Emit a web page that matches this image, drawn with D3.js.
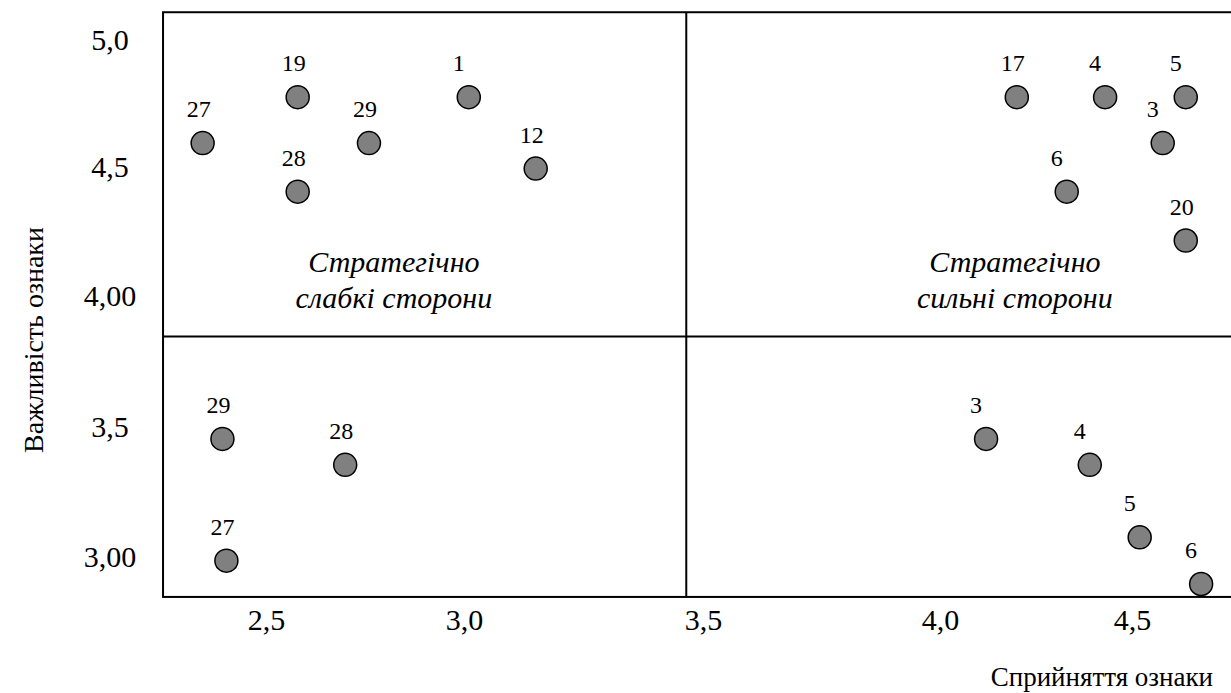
<!DOCTYPE html>
<html>
<head>
<meta charset="utf-8">
<script src="https://cdn.jsdelivr.net/npm/d3@7"></script>
<style>
  body { margin: 0; background: #fff; }
  svg text { font-family: "Liberation Serif", "Times New Roman", serif; fill: #000; }
</style>
</head>
<body>
<div id="chart"></div>
<script>
// Point labels (feature numbers), perception (x) and importance (y)
const ids        = ["27", "19", "28", "29", "1", "12", "17", "4", "5", "3", "6", "20", "29", "28", "27", "3", "4", "5", "6"];
const perception = [2.34, 2.58, 2.58, 2.76, 3.01, 3.15, 4.20, 4.43, 4.64, 4.58, 4.33, 4.64, 2.39, 2.70, 2.40, 4.12, 4.39, 4.52, 4.68];
const importance = [4.59, 4.77, 4.40, 4.59, 4.77, 4.49, 4.77, 4.77, 4.77, 4.59, 4.40, 4.21, 3.45, 3.35, 2.98, 3.45, 3.35, 3.07, 2.89];

// Axis ticks
const xTicks = [2.5, 3.0, 3.5, 4.0, 4.5];
const xTickLabels = ["2,5", "3,0", "3,5", "4,0", "4,5"];
const yTicks = [3.0, 3.5, 4.0, 4.5, 5.0];
const yTickLabels = ["3,00", "3,5", "4,00", "4,5", "5,0"];

// Quadrant borders
const xExtent = [2.24, 4.8];
const yExtent = [2.84, 5.103];
const xSplit = 3.465;
const ySplit = 3.84;

// Quadrant captions
const captions = [
    { lines: ["Стратегічно", "слабкі сторони"], x: 2.823, y: 4.088 },
    { lines: ["Стратегічно", "сильні сторони"], x: 4.195, y: 4.088 }
];

const data = ids.map((id, i) => ({ id, x: perception[i], y: importance[i] }));

const width = 1231, height = 693;
const serif = "'Liberation Serif', 'Times New Roman', serif";

const svg = d3.select("#chart").append("svg")
    .attr("width", width)
    .attr("height", height);

// hand-drawn axis in the source has uneven tick spacing, so piecewise scales
const x = d3.scaleLinear().domain(xTicks).range([266, 464, 703, 940, 1132]);
const y = d3.scaleLinear().domain(yTicks).range([555.5, 426, 294.5, 166, 38.5]);

// box + quadrant lines
svg.append("rect")
    .attr("x", x(xExtent[0]))
    .attr("y", y(yExtent[1]))
    .attr("width", x(xExtent[1]) - x(xExtent[0]))
    .attr("height", y(yExtent[0]) - y(yExtent[1]))
    .attr("fill", "none")
    .attr("stroke", "#000")
    .attr("stroke-width", 2);

svg.append("line")
    .attr("x1", x(xSplit)).attr("x2", x(xSplit))
    .attr("y1", y(yExtent[1])).attr("y2", y(yExtent[0]))
    .attr("stroke", "#000").attr("stroke-width", 2);

svg.append("line")
    .attr("x1", x(xExtent[0])).attr("x2", x(xExtent[1]))
    .attr("y1", y(ySplit)).attr("y2", y(ySplit))
    .attr("stroke", "#000").attr("stroke-width", 2);

// axes (labels only)
const xAxis = svg.append("g")
    .attr("transform", `translate(0,${y(yExtent[0])})`)
    .call(d3.axisBottom(x).tickValues(xTicks).tickFormat((d, i) => xTickLabels[i]).tickSize(0).tickPadding(12));
xAxis.select(".domain").remove();
xAxis.attr("font-family", serif).attr("font-size", 30);

const yAxis = svg.append("g")
    .attr("transform", "translate(110,0)")
    .call(d3.axisLeft(y).tickValues(yTicks).tickFormat((d, i) => yTickLabels[i]).tickSize(0).tickPadding(0));
yAxis.select(".domain").remove();
yAxis.attr("font-family", serif).attr("font-size", 30);
yAxis.selectAll("text")
    .attr("x", 0)
    .attr("dy", "0.35em")
    .attr("text-anchor", "middle");

// axis titles
svg.append("text")
    .attr("x", 1213)
    .attr("y", 686)
    .attr("text-anchor", "end")
    .attr("font-family", serif)
    .attr("font-size", 27)
    .text("Сприйняття ознаки");

svg.append("text")
    .attr("transform", "translate(43,340) rotate(-90)")
    .attr("text-anchor", "middle")
    .attr("font-family", serif)
    .attr("font-size", 28)
    .text("Важливість ознаки");

// quadrant captions
captions.forEach(c => {
    const t = svg.append("text")
        .attr("x", x(c.x))
        .attr("y", y(c.y))
        .attr("text-anchor", "middle")
        .attr("font-family", serif)
        .attr("font-size", 30)
        .attr("font-style", "italic");
    c.lines.forEach((line, i) => {
        t.append("tspan")
            .attr("x", x(c.x))
            .attr("dy", i === 0 ? 0 : "1.2em")
            .text(line);
    });
});

// points
svg.selectAll(".pt")
    .data(data)
    .enter().append("circle")
    .attr("class", "pt")
    .attr("cx", d => x(d.x))
    .attr("cy", d => y(d.y))
    .attr("r", 11.5)
    .attr("fill", "#808080")
    .attr("stroke", "#000")
    .attr("stroke-width", 1.5);

svg.selectAll(".lbl")
    .data(data)
    .enter().append("text")
    .attr("class", "lbl")
    .attr("x", d => x(d.x) - 16)
    .attr("y", d => y(d.y) - 26)
    .attr("font-family", serif)
    .attr("font-size", 24)
    .text(d => d.id);
</script>
</body>
</html>
